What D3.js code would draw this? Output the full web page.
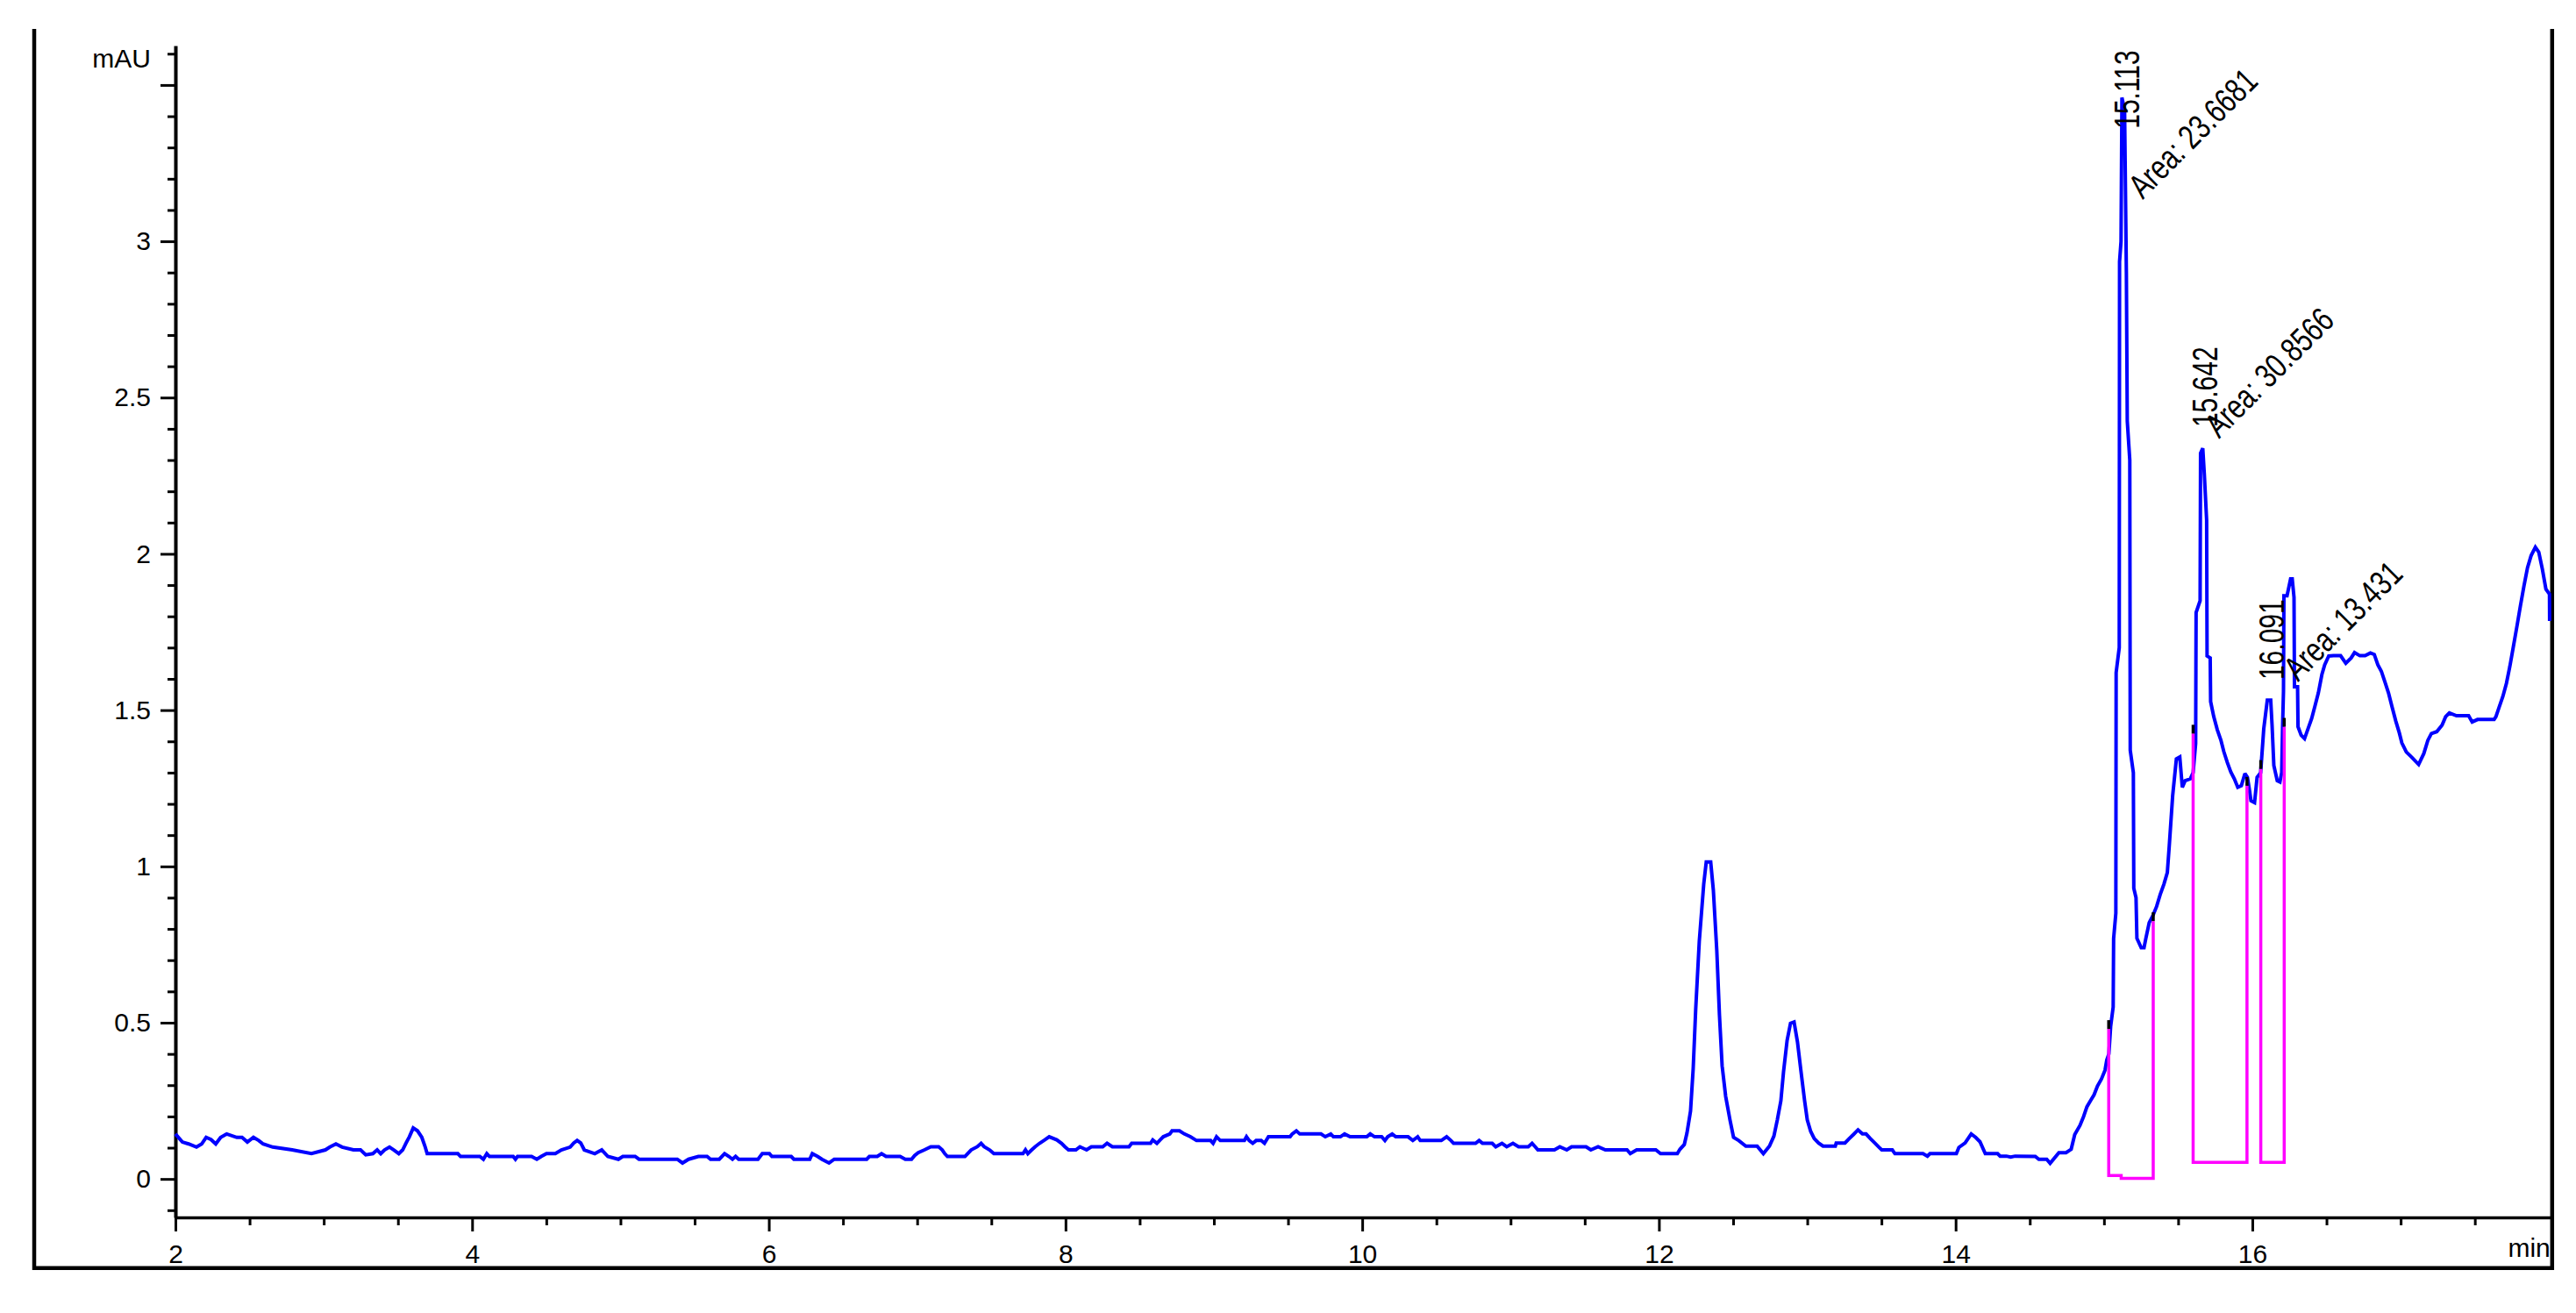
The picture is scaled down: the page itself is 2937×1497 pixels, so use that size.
<!DOCTYPE html>
<html>
<head>
<meta charset="utf-8">
<script src="https://cdn.jsdelivr.net/npm/d3@7"></script>
<style>
  html, body { margin: 0; padding: 0; background: #fff; }
  svg { display: block; }
</style>
</head>
<body>
<svg id="chart" width="2937" height="1497"></svg>
<script>
// ---------------- DATA ----------------
// Chromatogram trace: retention time (min) and absorbance (mAU)
const traceTime = [
  2.000,2.047,2.089,2.142,2.177,2.207,2.240,2.272,2.305,2.346,2.414,2.449,2.485,2.526,2.562,2.591,2.656,2.787,2.917,3.011,
  3.041,3.082,3.124,3.200,3.248,3.283,3.331,3.360,3.384,3.410,3.443,3.472,3.506,3.532,3.555,3.577,3.603,3.632,3.661,3.682,
  3.697,3.904,3.922,4.052,4.076,4.099,4.117,4.277,4.292,4.306,4.401,4.436,4.466,4.501,4.561,4.602,4.661,4.685,4.708,4.732,
  4.756,4.827,4.874,4.915,4.986,5.016,5.099,5.125,5.383,5.418,5.459,5.525,5.584,5.607,5.666,5.702,5.731,5.755,5.776,5.797,
  5.927,5.956,6.004,6.021,6.151,6.169,6.276,6.293,6.329,6.358,6.406,6.441,6.660,6.678,6.731,6.760,6.790,6.885,6.920,6.962,
  6.983,7.007,7.049,7.092,7.145,7.169,7.186,7.204,7.322,7.340,7.364,7.405,7.431,7.452,7.488,7.517,7.713,7.730,7.746,7.772,
  7.795,7.825,7.860,7.890,7.941,7.973,7.996,8.020,8.070,8.097,8.142,8.174,8.251,8.280,8.316,8.428,8.446,8.573,8.588,8.616,
  8.638,8.659,8.703,8.718,8.768,8.801,8.842,8.883,8.978,8.995,9.018,9.043,9.206,9.220,9.238,9.262,9.285,9.319,9.341,9.368,
  9.514,9.528,9.556,9.579,9.722,9.751,9.788,9.806,9.853,9.881,9.918,10.031,10.054,10.083,10.131,10.153,10.172,10.202,10.226,10.309,
  10.341,10.374,10.391,10.533,10.569,10.598,10.616,10.764,10.788,10.811,10.876,10.900,10.942,10.974,11.016,11.054,11.119,11.145,11.166,11.184,
  11.296,11.332,11.379,11.411,11.509,11.541,11.590,11.639,11.785,11.807,11.850,11.979,12.011,12.124,12.142,12.171,12.189,12.213,12.231,12.248,
  12.272,12.302,12.319,12.349,12.367,12.390,12.408,12.426,12.450,12.479,12.503,12.538,12.586,12.662,12.704,12.745,12.775,12.798,12.822,12.840,
  12.864,12.887,12.911,12.934,12.958,12.982,13.000,13.023,13.047,13.076,13.106,13.189,13.195,13.254,13.283,13.313,13.342,13.372,13.396,13.425,
  13.455,13.484,13.502,13.573,13.591,13.780,13.810,13.827,14.005,14.022,14.064,14.105,14.135,14.164,14.200,14.283,14.300,14.342,14.371,14.401,
  14.537,14.561,14.614,14.637,14.696,14.744,14.779,14.803,14.838,14.862,14.885,14.909,14.933,14.956,14.983,15.007,15.019,15.033,15.045,15.062,
  15.065,15.080,15.082,15.103,15.105,15.115,15.121,15.139,15.151,15.157,15.174,15.177,15.198,15.201,15.216,15.222,15.251,15.270,15.282,15.305,
  15.332,15.355,15.379,15.404,15.427,15.440,15.463,15.488,15.511,15.528,15.547,15.582,15.601,15.618,15.621,15.648,15.651,15.666,15.677,15.692,
  15.695,15.716,15.719,15.740,15.764,15.788,15.808,15.831,15.855,15.879,15.902,15.926,15.950,15.967,15.979,15.991,16.015,16.032,16.056,16.077,
  16.101,16.124,16.133,16.145,16.168,16.186,16.198,16.204,16.210,16.213,16.234,16.258,16.269,16.281,16.284,16.305,16.308,16.329,16.352,16.376,
  16.400,16.421,16.445,16.469,16.488,16.515,16.547,16.595,16.630,16.666,16.689,16.725,16.760,16.796,16.822,16.846,16.870,16.894,16.918,16.942,
  16.967,16.991,17.008,17.038,17.073,17.121,17.156,17.183,17.207,17.243,17.279,17.303,17.328,17.376,17.458,17.482,17.518,17.630,17.642,17.665,
  17.689,17.713,17.736,17.760,17.784,17.807,17.831,17.855,17.879,17.908,17.931,17.955,17.979,18.003,18.004
];
const traceMAU = [
  0.144,0.118,0.112,0.102,0.112,0.133,0.126,0.112,0.133,0.144,0.133,0.133,0.118,0.133,0.123,0.112,0.102,0.093,0.081,0.093,
  0.102,0.112,0.102,0.093,0.093,0.077,0.081,0.093,0.081,0.093,0.102,0.093,0.081,0.093,0.115,0.135,0.163,0.154,0.133,0.105,
  0.081,0.081,0.072,0.072,0.063,0.081,0.072,0.072,0.063,0.072,0.072,0.063,0.072,0.081,0.081,0.093,0.102,0.115,0.123,0.115,
  0.093,0.081,0.093,0.072,0.063,0.072,0.072,0.063,0.063,0.051,0.063,0.072,0.072,0.063,0.063,0.081,0.072,0.063,0.072,0.063,
  0.063,0.081,0.081,0.072,0.072,0.063,0.063,0.081,0.072,0.063,0.051,0.063,0.063,0.072,0.072,0.081,0.072,0.072,0.063,0.063,
  0.075,0.084,0.093,0.103,0.103,0.093,0.081,0.072,0.072,0.081,0.093,0.103,0.114,0.103,0.093,0.081,0.081,0.093,0.081,0.093,
  0.103,0.114,0.125,0.135,0.125,0.114,0.103,0.093,0.093,0.103,0.093,0.103,0.103,0.114,0.103,0.103,0.114,0.114,0.125,0.114,
  0.125,0.135,0.144,0.154,0.154,0.144,0.135,0.123,0.123,0.114,0.135,0.123,0.123,0.135,0.123,0.114,0.123,0.123,0.114,0.135,
  0.135,0.144,0.154,0.144,0.144,0.135,0.144,0.135,0.135,0.144,0.135,0.135,0.144,0.135,0.135,0.123,0.135,0.144,0.135,0.135,
  0.123,0.135,0.123,0.123,0.135,0.123,0.114,0.114,0.123,0.114,0.114,0.103,0.114,0.103,0.114,0.103,0.103,0.114,0.103,0.093,
  0.093,0.103,0.093,0.103,0.103,0.093,0.103,0.093,0.093,0.081,0.093,0.093,0.081,0.081,0.095,0.110,0.147,0.217,0.353,0.544,
  0.760,0.943,1.014,1.014,0.923,0.732,0.525,0.362,0.264,0.189,0.133,0.123,0.105,0.105,0.081,0.105,0.137,0.189,0.250,0.343,
  0.443,0.498,0.502,0.438,0.343,0.250,0.189,0.152,0.129,0.115,0.105,0.105,0.115,0.115,0.129,0.143,0.157,0.144,0.144,0.129,
  0.115,0.101,0.093,0.093,0.081,0.081,0.073,0.081,0.081,0.101,0.115,0.144,0.133,0.119,0.081,0.081,0.073,0.073,0.070,0.073,
  0.072,0.063,0.063,0.050,0.084,0.084,0.095,0.142,0.171,0.199,0.231,0.250,0.269,0.297,0.320,0.348,0.381,0.400,0.488,0.550,
  0.769,0.850,1.620,1.700,2.935,3.000,3.460,3.420,2.900,2.425,2.300,1.372,1.300,0.930,0.900,0.770,0.740,0.740,0.769,0.820,
  0.845,0.872,0.910,0.943,0.980,1.065,1.226,1.344,1.350,1.253,1.274,1.280,1.300,1.393,1.812,1.850,2.322,2.338,2.250,2.108,
  1.673,1.667,1.527,1.479,1.437,1.404,1.367,1.333,1.302,1.280,1.253,1.258,1.297,1.285,1.250,1.210,1.204,1.285,1.300,1.440,
  1.532,1.532,1.452,1.323,1.274,1.270,1.300,1.450,1.560,1.866,1.866,1.920,1.920,1.861,1.575,1.575,1.447,1.420,1.409,1.441,
  1.473,1.511,1.555,1.614,1.645,1.673,1.674,1.674,1.650,1.667,1.684,1.674,1.674,1.683,1.678,1.645,1.624,1.590,1.555,1.510,
  1.465,1.427,1.395,1.366,1.350,1.326,1.361,1.403,1.425,1.431,1.452,1.479,1.491,1.482,1.482,1.462,1.470,1.470,1.479,1.511,
  1.544,1.586,1.640,1.704,1.769,1.833,1.897,1.956,1.994,2.021,2.005,1.951,1.887,1.871,1.785
];

// Integrated peaks
const peakRT       = [15.113, 15.642, 16.091];
const peakAreaText = ["Area: 23.6681", "Area: 30.8566", "Area: 13.431"];
// integration baselines / drop lines (time, mAU)
const integTimes  = [[15.032, 15.032, 15.116, 15.116, 15.332, 15.332],
                     [15.601, 15.601, 15.964, 15.964],
                     [16.057, 16.057, 16.215, 16.215]];
const integValues = [[0.480, 0.011, 0.011, 0.002, 0.002, 0.825],
                     [1.425, 0.053, 0.053, 1.258],
                     [1.312, 0.053, 0.053, 1.447]];

// Axis ticks
const xMajorTicks = [2, 4, 6, 8, 10, 12, 14, 16];
const xTickLabels = ["2", "4", "6", "8", "10", "12", "14", "16"];
const yMajorTicks = [0, 0.5, 1, 1.5, 2, 2.5, 3, 3.5];
const yTickLabels = ["0", "0.5", "1", "1.5", "2", "2.5", "3", ""];
const yUnit = "mAU";
const xUnit = "min";

// ---------------- LAYOUT ----------------
const W = 2937, H = 1497;
const plot = { left: 200, right: 2909.8, top: 52, bottom: 1388 };
const frame = { left: 39, top: 33, right: 2909.8, bottom: 1445.7 };
const FONT = "'Liberation Sans', Arial, Helvetica, sans-serif";
// label anchor levels (retention-time label start, area-label start)
const rtLabelLevel = [3.36, 2.405, 1.597];
const areaLabelAt  = [[15.261, 3.132], [15.776, 2.367], [16.308, 1.589]];

const svg = d3.select("#chart");

const x = d3.scaleLinear().domain([2, 18.021]).range([plot.left, plot.right]);
const y = d3.scaleLinear().domain([-0.123, 3.626]).range([plot.bottom, plot.top]);

// outer frame (left, bottom, right)
svg.append("path")
  .attr("d", `M${frame.left},${frame.top}V${frame.bottom}H${frame.right}V${frame.top}`)
  .attr("fill", "none").attr("stroke", "#000").attr("stroke-width", 4.5);

// ---- axes ----
const xMinor = d3.range(2.5, 18, 0.5).filter(v => Math.abs(v % 2) > 1e-6);
const yMinor = d3.range(-1, 37, 1).map(v => v / 10).filter(v => Math.abs((v * 10) % 5) > 1e-6);

function styleAxis(g) {
  g.attr("font-size", 30).attr("font-family", FONT);
  g.selectAll("line").attr("stroke", "#000").attr("stroke-width", 3);
  g.selectAll("text").attr("fill", "#000");
}

const gxMinor = svg.append("g").attr("transform", `translate(0,${plot.bottom})`)
  .call(d3.axisBottom(x).tickValues(xMinor).tickSize(9).tickSizeOuter(0).tickFormat(""));
gxMinor.select(".domain").remove();
styleAxis(gxMinor);

const gyMinor = svg.append("g").attr("transform", `translate(${plot.left},0)`)
  .call(d3.axisLeft(y).tickValues(yMinor).tickSize(9).tickSizeOuter(0).tickFormat(""));
gyMinor.select(".domain").remove();
styleAxis(gyMinor);

const gx = svg.append("g").attr("transform", `translate(0,${plot.bottom})`)
  .call(d3.axisBottom(x).tickValues(xMajorTicks).tickSize(16).tickPadding(15).tickSizeOuter(0)
    .tickFormat((d, i) => xTickLabels[i]));
styleAxis(gx);
gx.select(".domain").attr("stroke", "#000").attr("stroke-width", 3.5);

const gy = svg.append("g").attr("transform", `translate(${plot.left},0)`)
  .call(d3.axisLeft(y).tickValues(yMajorTicks).tickSize(17).tickPadding(11).tickSizeOuter(0)
    .tickFormat((d, i) => yTickLabels[i]));
styleAxis(gy);
gy.select(".domain").attr("stroke", "#000").attr("stroke-width", 4);

// unit labels
svg.append("text").text(yUnit)
  .attr("x", plot.left - 28).attr("y", 77).attr("text-anchor", "end")
  .attr("font-family", FONT).attr("font-size", 30).attr("fill", "#000");
svg.append("text").text(xUnit)
  .attr("x", frame.right - 2).attr("y", 1433).attr("text-anchor", "end")
  .attr("font-family", FONT).attr("font-size", 30).attr("fill", "#000");

// ---- trace ----
const pts = traceTime.map((t, i) => [t, traceMAU[i]]);
const line = d3.line().x(d => x(d[0])).y(d => y(d[1]));
svg.append("path").datum(pts)
  .attr("d", line)
  .attr("fill", "none").attr("stroke", "#0000FF").attr("stroke-width", 4)
  .attr("stroke-linejoin", "miter").attr("stroke-miterlimit", 2);

// ---- integration baselines ----
integTimes.forEach((ts, k) => {
  const seg = ts.map((t, i) => [t, integValues[k][i]]);
  svg.append("path").datum(seg).attr("d", line)
    .attr("fill", "none").attr("stroke", "#FF00FF").attr("stroke-width", 3.5);
  // black start/end markers on the trace
  [seg[0], seg[seg.length - 1]].forEach(p => {
    svg.append("line")
      .attr("x1", x(p[0])).attr("x2", x(p[0]))
      .attr("y1", y(p[1])).attr("y2", y(p[1]) - 10)
      .attr("stroke", "#000").attr("stroke-width", 3.5);
  });
});

// ---- peak annotations ----
peakRT.forEach((rt, i) => {
  svg.append("text").text(rt.toFixed(3))
    .attr("transform", `translate(${x(rt) + 21},${y(rtLabelLevel[i])}) rotate(-90) scale(1,1.38)`)
    .attr("font-family", FONT).attr("font-size", 30).attr("fill", "#000");
  const a = areaLabelAt[i];
  svg.append("text").text(peakAreaText[i])
    .attr("transform", `translate(${x(a[0])},${y(a[1])}) rotate(-45) scale(1,1.3)`)
    .attr("font-family", FONT).attr("font-size", 30).attr("fill", "#000");
});
</script>
</body>
</html>
